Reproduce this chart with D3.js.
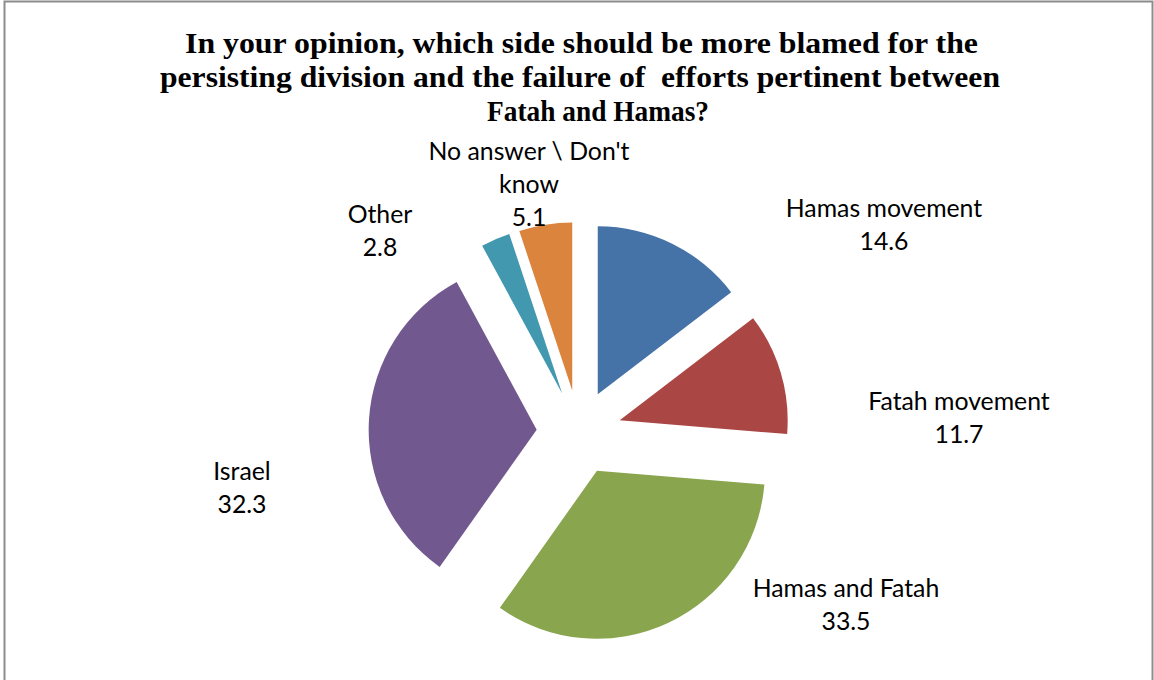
<!DOCTYPE html>
<html>
<head>
<meta charset="utf-8">
<script src="https://cdn.jsdelivr.net/npm/d3@7"></script>
<style>
  html, body { margin: 0; padding: 0; background: #fff; }
  svg { display: block; }
</style>
</head>
<body>
<svg id="chart"></svg>
<script>
// data
const categories = ["Hamas movement", "Fatah movement", "Hamas and Fatah", "Israel", "Other", "No answer \\ Don't know"];
const values = [14.6, 11.7, 33.5, 32.3, 2.8, 5.1];
const titleLines = [
  "In your opinion, which side should be more blamed for the",
  "persisting division and the failure of  efforts pertinent between",
  "Fatah and Hamas?"
];

// layout
const labelLines = [["Hamas movement"], ["Fatah movement"], ["Hamas and Fatah"], ["Israel"], ["Other"], ["No answer \\ Don't", "know"]];
const labelPos = [[884, 217], [959, 410], [846, 597], [242, 480], [380, 223], [529, 160]];
const titleSpan = [[185, 978], [160, 1000], [487, 709]];
const colors = ["#4572A7", "#AA4643", "#89A54E", "#71588F", "#4198AF", "#DB843D"];

const width = 1154, height = 680;
const svg = d3.select("#chart").attr("width", width).attr("height", height);

// frame
svg.append("rect")
  .attr("x", 4.5).attr("y", 1.5)
  .attr("width", 1148).attr("height", 720)
  .attr("fill", "none")
  .attr("stroke", "#8c8c8c")
  .attr("stroke-width", 2);

// title (stretched to the reference line widths)
const title = svg.append("g");
title.selectAll("text")
  .data(titleLines)
  .enter().append("text")
  .attr("x", (d, i) => titleSpan[i][0])
  .attr("y", (d, i) => 53 + i * 34)
  .attr("textLength", (d, i) => titleSpan[i][1] - titleSpan[i][0])
  .attr("lengthAdjust", "spacingAndGlyphs")
  .style("white-space", "pre")
  .style("font-family", "'Liberation Serif', 'DejaVu Serif', serif")
  .style("font-weight", "bold")
  .style("font-size", "29px")
  .style("fill", "#000")
  .text(d => d);

// pie
const cx = 579, cy = 432.3, r = 168, explode = 42.4;
const pie = d3.pie().sort(null).value(d => d)(values);
const arc = d3.arc().innerRadius(0).outerRadius(r);

const g = svg.append("g").attr("transform", `translate(${cx},${cy})`);
g.selectAll("path")
  .data(pie)
  .enter().append("path")
  .attr("d", arc)
  .attr("fill", (d, i) => colors[i])
  .attr("transform", d => {
    const mid = (d.startAngle + d.endAngle) / 2;
    return `translate(${explode * Math.sin(mid)},${-explode * Math.cos(mid)})`;
  });

// labels
const lineH = 32.8;
const labels = svg.append("g")
  .style("font-family", "Lato, 'Open Sans', sans-serif")
  .style("font-size", "24.8px")
  .style("fill", "#000");

categories.forEach((c, i) => {
  const lines = labelLines[i].concat([String(values[i])]);
  const t = labels.append("text")
    .attr("text-anchor", "middle")
    .attr("x", labelPos[i][0])
    .attr("y", labelPos[i][1]);
  lines.forEach((s, j) => {
    t.append("tspan")
      .attr("x", labelPos[i][0])
      .attr("dy", j === 0 ? 0 : lineH)
      .text(s);
  });
});
</script>
</body>
</html>
